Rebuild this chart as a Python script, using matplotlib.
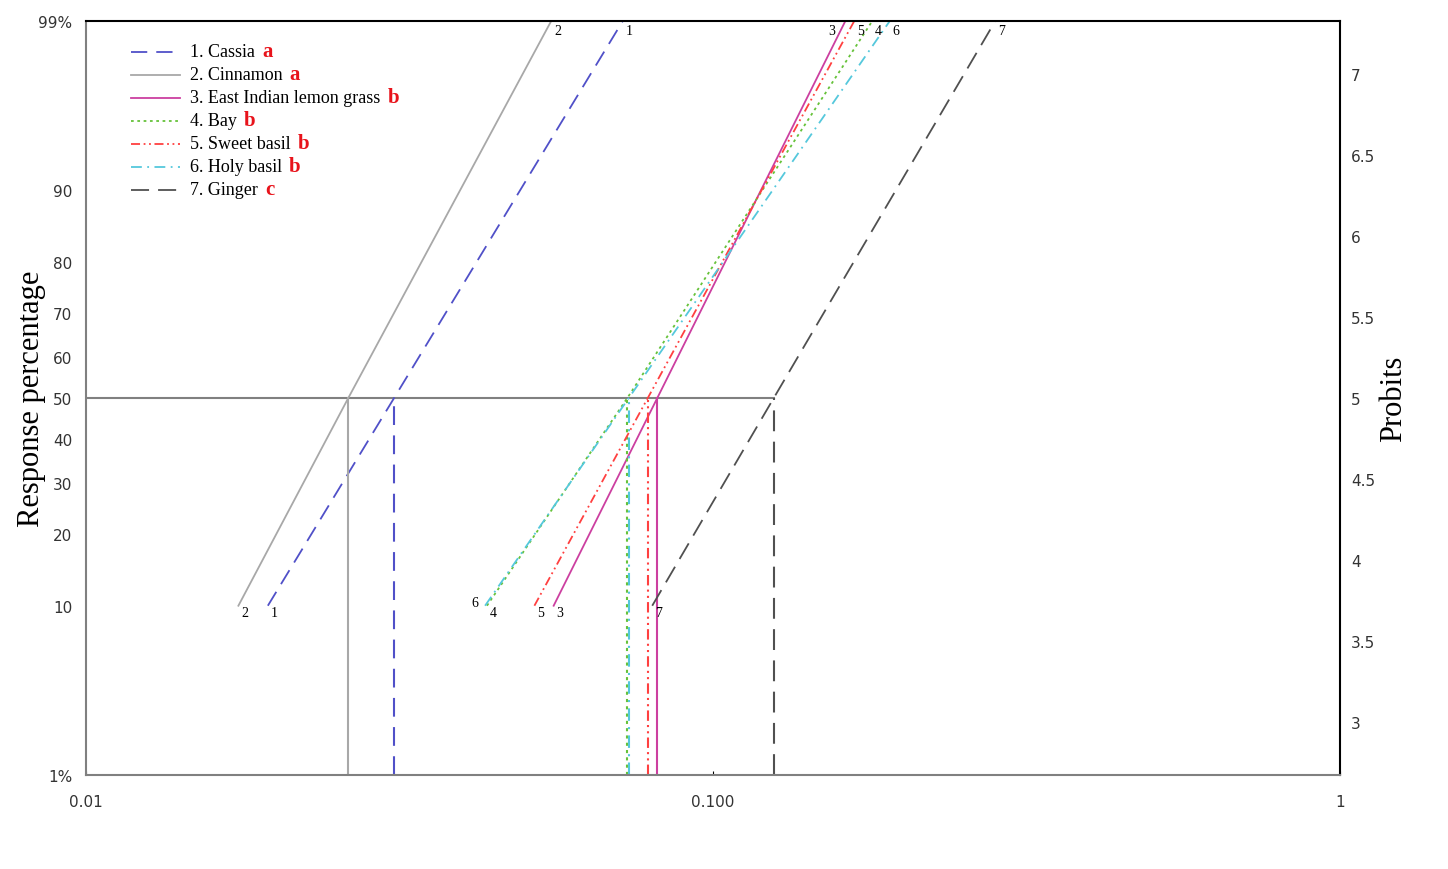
import numpy as np
import matplotlib.pyplot as plt
from statistics import NormalDist

# doses at 10 %, 50 % and 99 % response
names = ['1. Cassia', '2. Cinnamon', '3. East Indian lemon grass', '4. Bay',
         '5. Sweet basil', '6. Holy basil', '7. Ginger']
groups = ['a', 'a', 'b', 'b', 'b', 'b', 'c']
tags = ['1', '2', '3', '4', '5', '6', '7']
lc10 = [0.0195, 0.0175, 0.0557, 0.0436, 0.0519, 0.0433, 0.0800]
lc50 = [0.0310, 0.0262, 0.0815, 0.0730, 0.0787, 0.0734, 0.1250]
lc99 = [0.0718, 0.0552, 0.1626, 0.1795, 0.1680, 0.1914, 0.2820]

colors = ['#5050c8', '#a8a8a8', '#cc3fa0', '#66c23a', '#ff4040', '#55c8dc', '#505050']
styles = [(0, (9, 5)), '-', '-', (0, (1.5, 2)), (0, (5, 2, 1, 2, 1, 2)),
          (0, (6, 3, 1, 3)), (0, (10, 5))]

pct_ticks = [1, 10, 20, 30, 40, 50, 60, 70, 80, 90, 99]
pct_labels = ['1%', '10', '20', '30', '40', '50', '60', '70', '80', '90', '99%']
probit_ticks = [3, 3.5, 4, 4.5, 5, 5.5, 6, 6.5, 7]


def probit(p):
    return 5 + NormalDist().inv_cdf(p / 100.0)


plt.rcParams['font.family'] = ['DejaVu Sans']
fig = plt.figure(figsize=(14.48, 8.70), dpi=100)
ax = fig.add_axes([0.0594, 0.108, 0.866, 0.8667])
ax.set_xscale('log')
ax.set_xlim(0.01, 1)
ymin, ymax = probit(1), probit(99)
ax.set_ylim(ymin, ymax)

y10, y50, y99 = probit(10), probit(50), probit(99)

# horizontal 50 % line
ax.plot([0.01, max(lc50)], [y50, y50], color='#808080', lw=1.5, zorder=1)

for i in range(len(names)):
    ax.plot([lc10[i], lc50[i], lc99[i]], [y10, y50, y99], color=colors[i],
            ls=styles[i], lw=1.3, zorder=2)
    ax.plot([lc50[i], lc50[i]], [ymin, y50], color=colors[i], ls=styles[i],
            lw=1.5, zorder=2)
    # end labels
    if tags[i] == '6':
        ax.annotate(tags[i], (lc10[i], y10), xytext=(-10, 2), textcoords='offset points',
                    fontsize=10, family='Liberation Serif', ha='left', va='center')
    else:
        ax.annotate(tags[i], (lc10[i], y10), xytext=(2, -5), textcoords='offset points',
                    fontsize=10, family='Liberation Serif', ha='left', va='center')
    if tags[i] == '3':
        ax.annotate(tags[i], (lc99[i], y99), xytext=(-12, -7), textcoords='offset points',
                    fontsize=10, family='Liberation Serif', ha='left', va='center')
    else:
        ax.annotate(tags[i], (lc99[i], y99), xytext=(2, -7), textcoords='offset points',
                    fontsize=10, family='Liberation Serif', ha='left', va='center')

# legend drawn by hand
for i in range(len(names)):
    yy = 0.959 - i * 0.0305
    ax.plot([0.036, 0.075], [yy, yy], transform=ax.transAxes, color=colors[i],
            ls=styles[i], lw=1.3)
    t = ax.text(0.083, yy, names[i], transform=ax.transAxes, fontsize=13,
                family='Liberation Serif', va='center', ha='left')
    ax.annotate(groups[i], xy=(1, 0.5), xycoords=t, xytext=(5, 1),
                textcoords='offset points', fontsize=15, family='Liberation Serif',
                fontweight='bold', color='#e8131b', va='center', ha='left')

# axes styling
ax.set_yticks([probit(p) for p in pct_ticks])
ax.set_yticklabels(pct_labels)
ax.set_xticks([0.01, 0.1, 1])
ax.set_xticklabels(['0.01', '0.100', '1'])
ax.xaxis.set_minor_locator(plt.NullLocator())
ax.tick_params(axis='y', length=0, labelsize=11, labelcolor='#333333', pad=10)
ax.tick_params(axis='x', length=3, direction='in', labelsize=11, labelcolor='#333333', pad=14)
ax.spines['left'].set_color('#808080')
ax.spines['bottom'].set_color('#808080')
for s in ax.spines.values():
    s.set_linewidth(1.5)
ax.set_ylabel('Response percentage', fontsize=22, family='Liberation Serif')
ax.yaxis.set_label_coords(-0.032, 0.5)

ax2 = ax.twinx()
ax2.set_ylim(ymin, ymax)
ax2.set_yticks(probit_ticks)
ax2.set_yticklabels(['3', '3.5', '4', '4.5', '5', '5.5', '6', '6.5', '7'])
ax2.tick_params(axis='y', length=0, labelsize=11, labelcolor='#333333', pad=8)
ax2.set_ylabel('Probits', fontsize=22, family='Liberation Serif')
ax2.yaxis.set_label_coords(1.031, 0.5)
for s in ax2.spines.values():
    s.set_visible(False)

fig.savefig('out.png', dpi=100)
